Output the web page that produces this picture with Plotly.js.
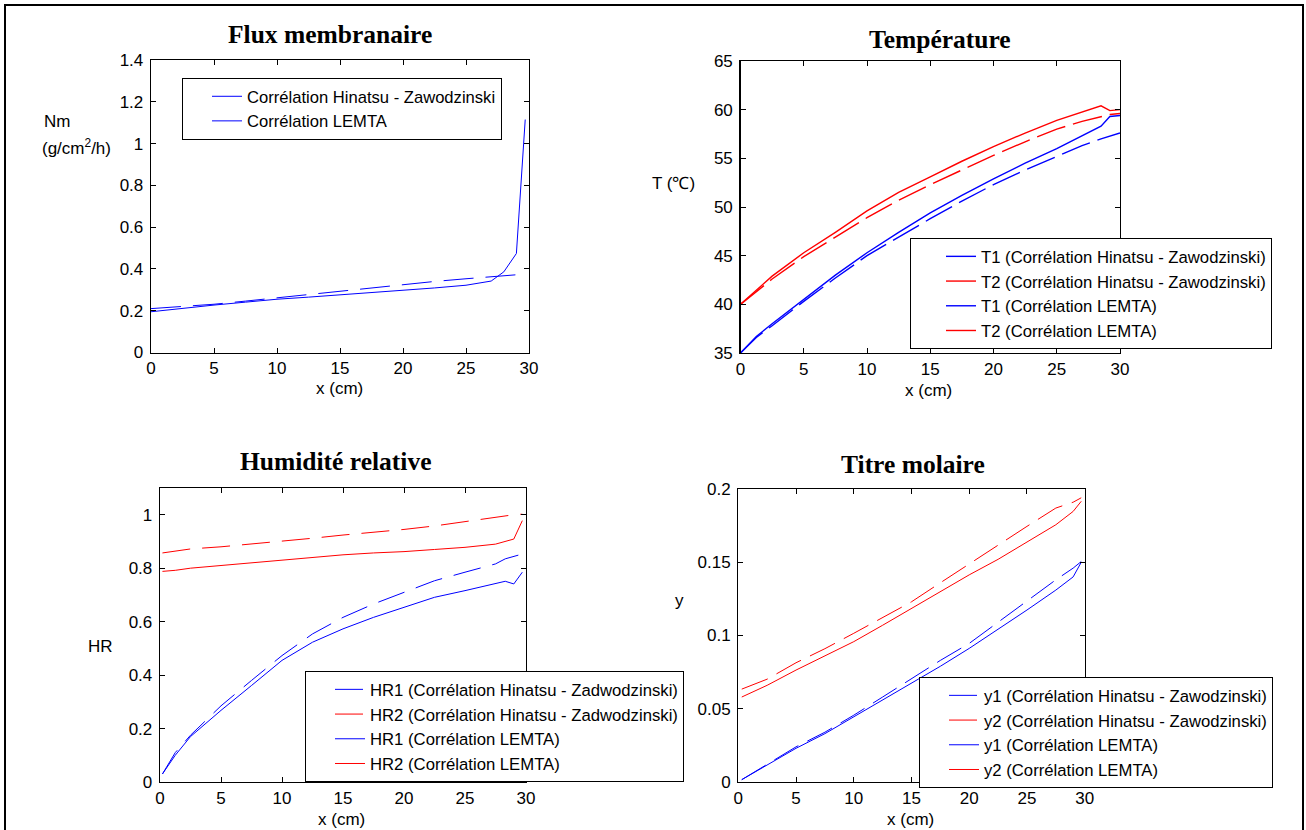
<!DOCTYPE html>
<html>
<head>
<meta charset="utf-8">
<script src="https://cdn.plot.ly/plotly-3.0.1.min.js"></script>
<style>html,body{margin:0;padding:0;background:#fff;}#chart{width:1306px;height:830px;}</style>
</head>
<body>
<div id="chart"></div>
<script>
// ---- Data ----
// Panel 1: Flux membranaire
const xFlux = [0, 2.5, 5, 7.5, 10, 12.5, 15, 17.5, 20, 22.5, 25, 27, 28, 29, 29.7];
const fluxHZ = [0.210, 0.220, 0.231, 0.246, 0.262, 0.279, 0.294, 0.310, 0.326, 0.340, 0.353, 0.362, 0.366, 0.372, 0.378];
const fluxLEMTA = [0.195, 0.212, 0.227, 0.241, 0.255, 0.265, 0.275, 0.286, 0.298, 0.309, 0.322, 0.342, 0.386, 0.474, 1.115];

// Panel 2: Température
const xTemp = [0, 1.25, 2.5, 5, 7.5, 10, 12.5, 15, 17.5, 20, 22.5, 25, 27, 28.5, 29.2, 30];
const T1HZ = [35, 36.6, 37.8, 40.3, 42.7, 45.0, 46.9, 48.8, 50.6, 52.3, 53.8, 55.2, 56.3, 57.0, 57.3, 57.6];
const T2HZ = [40, 41.3, 42.6, 44.9, 46.9, 48.9, 50.7, 52.3, 53.8, 55.3, 56.7, 58.0, 58.8, 59.3, 59.5, 59.6];
const T1LEMTA = [35, 36.7, 38.0, 40.5, 43.0, 45.3, 47.4, 49.4, 51.2, 52.9, 54.5, 56.0, 57.3, 58.3, 59.3, 59.4];
const T2LEMTA = [40, 41.5, 42.9, 45.3, 47.4, 49.6, 51.5, 53.1, 54.7, 56.2, 57.6, 58.9, 59.8, 60.4, 59.9, 60.0];

// Panel 3: Humidité relative
const xHR = [0.2, 1.25, 2.5, 5, 7.5, 10, 12.5, 15, 17.5, 20, 22.5, 25, 27.5, 28.3, 29, 29.7];
const HR1HZ = [0.03, 0.11, 0.175, 0.285, 0.38, 0.473, 0.554, 0.616, 0.666, 0.71, 0.753, 0.785, 0.816, 0.835, 0.845, 0.853];
const HR2HZ = [0.857, 0.865, 0.872, 0.88, 0.89, 0.90, 0.912, 0.924, 0.934, 0.945, 0.958, 0.975, 0.99, 0.995, 1.0, 1.002];
const HR1LEMTA = [0.03, 0.10, 0.17, 0.268, 0.361, 0.455, 0.523, 0.573, 0.616, 0.654, 0.691, 0.716, 0.743, 0.751, 0.741, 0.785];
const HR2LEMTA = [0.788, 0.792, 0.80, 0.81, 0.822, 0.832, 0.842, 0.85, 0.857, 0.862, 0.870, 0.878, 0.89, 0.90, 0.909, 0.978];

// Panel 4: Titre molaire
const xY = [0.3, 2.5, 5, 7.5, 10, 12.5, 15, 17.5, 20, 22.5, 25, 27.5, 29, 29.7];
const y1HZ = [0.0016, 0.012, 0.024, 0.034, 0.0456, 0.058, 0.0707, 0.083, 0.0946, 0.109, 0.123, 0.138, 0.146, 0.1505];
const y2HZ = [0.0634, 0.0702, 0.0814, 0.091, 0.1015, 0.112, 0.123, 0.136, 0.149, 0.162, 0.1745, 0.187, 0.191, 0.194];
const y1LEMTA = [0.0016, 0.0115, 0.023, 0.033, 0.0445, 0.056, 0.0673, 0.079, 0.0912, 0.104, 0.1174, 0.131, 0.140, 0.150];
const y2LEMTA = [0.058, 0.066, 0.0764, 0.086, 0.0958, 0.107, 0.1186, 0.130, 0.1414, 0.152, 0.164, 0.1756, 0.1847, 0.1916];

const titles = ['Flux membranaire', 'Température', 'Humidité relative', 'Titre molaire'];
const xLabel = 'x (cm)';

// ---- Layout helpers ----
const W = 1306, H = 830;
const SANS = 'Liberation Sans, Arial, sans-serif';
const SERIF = 'Liberation Serif, Times New Roman, serif';
const BLUE = '#0000ff', RED = '#ff0000';
const px = v => v / W;
const py = v => 1 - v / H;

function line(x, y, color, dash, xa, ya, leg, name, width) {
  return {x: x, y: y, type: 'scatter', mode: 'lines', name: name,
    line: {color: color, width: width || 1, dash: dash || 'solid'},
    xaxis: xa, yaxis: ya, legend: leg, hoverinfo: 'skip'};
}

const traces = [
  line(xFlux, fluxHZ, BLUE, '30px,12px', 'x', 'y', 'legend', 'Corrélation Hinatsu - Zawodzinski'),
  line(xFlux, fluxLEMTA, BLUE, 'solid', 'x', 'y', 'legend', 'Corrélation LEMTA'),

  line(xTemp, T1HZ, BLUE, '30px,8px', 'x2', 'y2', 'legend2', 'T1 (Corrélation Hinatsu - Zawodzinski)', 1.4),
  line(xTemp, T2HZ, RED, '30px,8px', 'x2', 'y2', 'legend2', 'T2 (Corrélation Hinatsu - Zawodzinski)', 1.4),
  line(xTemp, T1LEMTA, BLUE, 'solid', 'x2', 'y2', 'legend2', 'T1 (Corrélation LEMTA)', 1.4),
  line(xTemp, T2LEMTA, RED, 'solid', 'x2', 'y2', 'legend2', 'T2 (Corrélation LEMTA)', 1.4),

  line(xHR, HR1HZ, BLUE, '28px,12px', 'x3', 'y3', 'legend3', 'HR1 (Corrélation Hinatsu - Zadwodzinski)'),
  line(xHR, HR2HZ, RED, '28px,12px', 'x3', 'y3', 'legend3', 'HR2 (Corrélation Hinatsu - Zadwodzinski)'),
  line(xHR, HR1LEMTA, BLUE, 'solid', 'x3', 'y3', 'legend3', 'HR1 (Corrélation LEMTA)'),
  line(xHR, HR2LEMTA, RED, 'solid', 'x3', 'y3', 'legend3', 'HR2 (Corrélation LEMTA)'),

  line(xY, y1HZ, BLUE, '28px,10px', 'x4', 'y4', 'legend4', 'y1 (Corrélation Hinatsu - Zawodzinski)'),
  line(xY, y2HZ, RED, '28px,10px', 'x4', 'y4', 'legend4', 'y2 (Corrélation Hinatsu - Zawodzinski)'),
  line(xY, y1LEMTA, BLUE, 'solid', 'x4', 'y4', 'legend4', 'y1 (Corrélation LEMTA)'),
  line(xY, y2LEMTA, RED, 'solid', 'x4', 'y4', 'legend4', 'y2 (Corrélation LEMTA)')
];

function axis(d0, d1, range, dtick, anchor, isY) {
  const a = {
    domain: isY ? [py(d1), py(d0)] : [px(d0), px(d1)],
    range: range, dtick: dtick, tick0: 0, autorange: false,
    anchor: anchor, showgrid: false, zeroline: false,
    showline: true, linecolor: 'black', linewidth: 1.3, mirror: 'ticks',
    ticks: 'inside', ticklen: 5, tickcolor: 'black', tickwidth: 1,
    tickfont: {family: SANS, size: 17, color: 'black'},
    fixedrange: true
  };
  if (isY) a.ticklabelstandoff = 3;
  return a;
}

function legend(left, top, size, indent) {
  return {x: px(left), y: py(top), xanchor: 'left', yanchor: 'top',
    bgcolor: 'white', bordercolor: 'black', borderwidth: 1,
    font: {family: SANS, size: size, color: 'black'}, indentation: indent};
}

function ann(text, xpx, ypx, opts) {
  return Object.assign({text: text, x: px(xpx), y: py(ypx), xref: 'paper', yref: 'paper',
    showarrow: false, xanchor: 'center', yanchor: 'middle',
    font: {family: SANS, size: 17, color: 'black'}}, opts || {});
}
const titleFont = {family: SERIF, size: 25.5, color: 'black', weight: 'bold'};

const layout = {
  width: W, height: H, margin: {l: 0, r: 0, t: 0, b: 0},
  paper_bgcolor: 'white', plot_bgcolor: 'white', showlegend: true,
  xaxis: axis(151, 529, [0, 30], 5, 'y', false),
  yaxis: axis(60, 352.5, [0, 1.4], 0.2, 'x', true),
  xaxis2: axis(740.5, 1120, [0, 30], 5, 'y2', false),
  yaxis2: axis(61, 353, [35, 65], 5, 'x2', true),
  xaxis3: axis(160, 526, [0, 30], 5, 'y3', false),
  yaxis3: axis(488, 782, [0, 1.1], 0.2, 'x3', true),
  xaxis4: axis(738.3, 1084.7, [0, 30], 5, 'y4', false),
  yaxis4: axis(489, 782, [0, 0.2], 0.05, 'x4', true),
  legend: legend(182, 78, 16.6, 24),
  legend2: legend(910, 238, 16.7, 30),
  legend3: legend(305, 671, 16.7, 24),
  legend4: legend(919, 677, 16.7, 24),
  annotations: [
    ann('<b>' + titles[0] + '</b>', 330, 35, {font: titleFont}),
    ann('<b>' + titles[1] + '</b>', 940, 39, {font: titleFont}),
    ann('<b>' + titles[2] + '</b>', 335, 461, {font: titleFont}),
    ann('<b>' + titles[3] + '</b>', 913, 464, {font: titleFont}),
    ann(xLabel, 339, 388),
    ann(xLabel, 929, 390),
    ann(xLabel, 342, 819),
    ann(xLabel, 910, 819),
    ann('Nm', 42, 122, {xanchor: 'left'}),
    ann('(g/cm<sup>2</sup>/h)', 40, 147, {xanchor: 'left'}),
    ann('T (\u2103)', 650, 183, {xanchor: 'left'}),
    ann('HR', 86, 646, {xanchor: 'left'}),
    ann('y', 673, 600, {xanchor: 'left'})
  ],
  shapes: [
    {type: 'rect', xref: 'paper', yref: 'paper', x0: px(5), x1: px(1303), y0: py(845), y1: py(5),
     line: {color: 'black', width: 2}, fillcolor: 'rgba(0,0,0,0)', layer: 'above'}
  ]
};

Plotly.newPlot('chart', traces, layout, {displayModeBar: false, staticPlot: true});
</script>
</body>
</html>
